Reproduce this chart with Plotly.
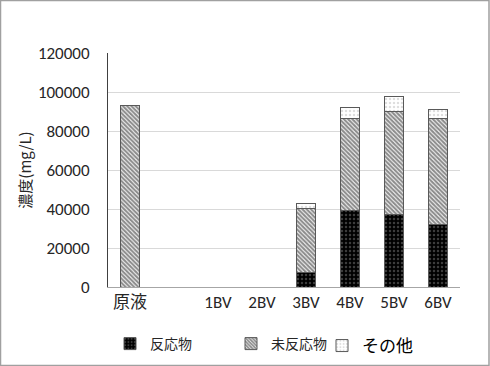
import plotly.graph_objects as go

categories = ["原液", " ", "1BV", "2BV", "3BV", "4BV", "5BV", "6BV"]
reactant = [0, 0, 0, 0, 7300, 39000, 37100, 32200]
unreacted = [93000, 0, 0, 0, 33100, 47200, 53100, 54000]
other = [0, 0, 0, 0, 2200, 5800, 7500, 4600]
yticks = [0, 20000, 40000, 60000, 80000, 100000, 120000]

font_fam = "Carlito, Open Sans, Noto Sans CJK JP, sans-serif"
jp = "Noto Sans CJK JP"
line = dict(color="#595959", width=1)

fig = go.Figure()
fig.add_trace(go.Bar(
    x=categories, y=reactant, name="反応物", legend="legend",
    marker=dict(color="black", line=line,
                pattern=dict(shape=".", fgcolor="#777777", bgcolor="black", size=4, solidity=0.3)),
))
fig.add_trace(go.Bar(
    x=categories, y=unreacted, name="未反応物", legend="legend2",
    marker=dict(color="white", line=line,
                pattern=dict(shape="\\", fgcolor="#1a1a1a", bgcolor="white", size=3, solidity=0.7)),
))
fig.add_trace(go.Bar(
    x=categories, y=other, name="その他", legend="legend3",
    marker=dict(color="white", line=line,
                pattern=dict(shape=".", fgcolor="#bbbbbb", bgcolor="white", size=4, solidity=0.3)),
))

def leg(xpx, size, color="#262626"):
    return dict(orientation="h", x=xpx / 490, xref="container", y=1 - 328 / 366, yref="container",
                xanchor="left", yanchor="top", bgcolor="rgba(0,0,0,0)",
                font=dict(size=size, family=jp, color=color), itemwidth=30)

fig.update_layout(
    barmode="stack",
    bargap=0.59,
    width=490, height=366,
    margin=dict(l=108, r=30, t=53, b=79, autoexpand=False),
    paper_bgcolor="white",
    plot_bgcolor="white",
    font=dict(family=font_fam, size=15, color="#262626"),
    showlegend=True,
    legend=leg(110, 14),
    legend2=leg(231, 14),
    legend3=leg(322, 17, "#000000"),
    xaxis=dict(type="category", categoryorder="array", categoryarray=categories,
               showline=True, linecolor="#a6a6a6", linewidth=1, ticks="",
               tickfont=dict(size=17, color="#262626"), fixedrange=True),
    yaxis=dict(range=[0, 120000], tickvals=yticks, ticktext=[str(v) for v in yticks],
               showgrid=True, gridcolor="#d9d9d9",
               showline=True, linecolor="#404040", linewidth=1, ticks="",
               tickfont=dict(size=17, color="#262626"), ticklabelstandoff=14,
               title=dict(text="濃度(mg/L)", font=dict(size=15, family=jp), standoff=2),
               zeroline=False, fixedrange=True),
    shapes=[dict(type="rect", xref="paper", yref="paper",
                 x0=-107.5 / 352, x1=1 + 29 / 352, y0=-78.5 / 234, y1=1 + 52.5 / 234,
                 line=dict(color="#a0a0a0", width=1.5), fillcolor="rgba(0,0,0,0)")],
)

fig.write_html("out.html", config={"displayModeBar": False},
               post_script="document.body.style.margin='0px';")
